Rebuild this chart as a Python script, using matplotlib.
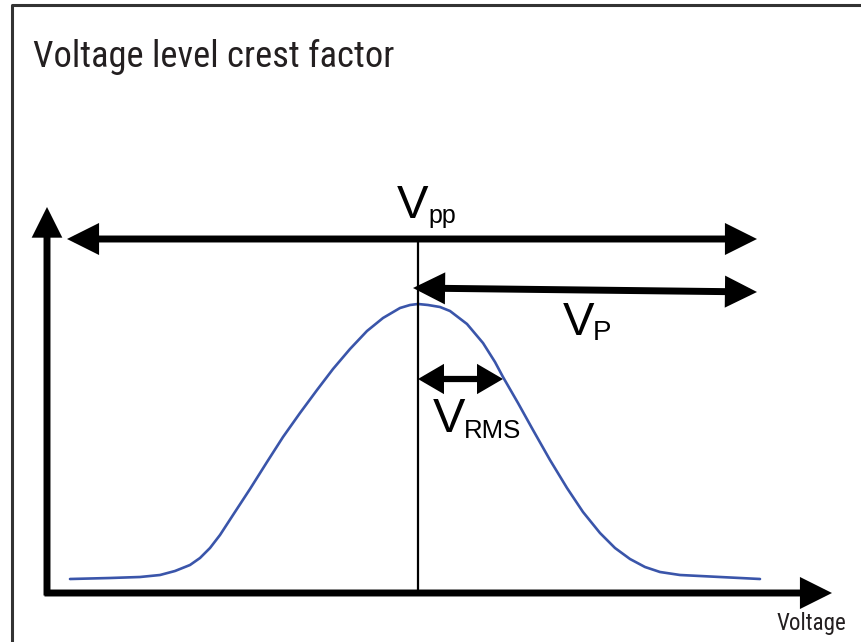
import matplotlib
matplotlib.use("Agg")
import matplotlib.pyplot as plt
from matplotlib.patches import FancyArrowPatch
from matplotlib.lines import Line2D
from matplotlib import font_manager as fm

# ---- data (diagram coordinates, y grows downward) ----
curve_x = [70, 110, 140, 160, 175, 190, 200, 210, 220, 233, 250, 267, 283, 300, 317,
           333, 350, 367, 383, 400, 410, 418, 428, 440, 450, 467, 483, 495, 503, 518,
           533, 550, 567, 583, 600, 615, 630, 645, 660, 680, 720, 760]
curve_y = [579, 578, 577, 575, 571, 565, 558, 548, 535, 515, 489, 462, 437, 413, 390,
           369, 349, 331, 318, 308, 305, 304, 305, 307, 311, 324, 343, 362, 377, 403,
           430, 460, 488, 512, 533, 548, 559, 567, 572, 575, 577, 579]

peak_x = 418
axis_origin = (47, 593)
y_axis_tip = 207
x_axis_tip = 832
vpp_span = [(67, 239), (757, 239)]
vp_span = [(413, 288), (757, 292)]
vrms_span = [(418, 379), (503, 379)]

title = "Voltage level crest factor"
xlabel = "Voltage"

# ---- pick a narrow sans font for the title if available ----
def narrow_font():
    prefs = ["Liberation Sans Narrow", "Roboto Condensed", "DejaVu Sans Condensed",
             "Noto Sans Condensed", "Open Sans Condensed"]
    ents = fm.fontManager.ttflist
    for p in prefs:
        for e in ents:
            if e.name == p and e.style == "normal" and e.weight in (400, "normal", "regular"):
                return fm.FontProperties(fname=e.fname)
    for e in ents:
        low = (e.name + " " + e.fname).lower()
        if ("condensed" in low or "narrow" in low) and "mono" not in low and "serif" not in low \
                and e.style == "normal" and "bold" not in low and "light" not in low \
                and "italic" not in low and "semi" not in low and "extra" not in low \
                and "thin" not in low and "medium" not in low and "black" not in low:
            return fm.FontProperties(fname=e.fname)
    return fm.FontProperties(family="Roboto")

nf = narrow_font()

fig = plt.figure(figsize=(8.62, 6.42), dpi=100)
ax = fig.add_axes([0, 0, 1, 1])
ax.set_xlim(0, 862)
ax.set_ylim(642, 0)
ax.axis("off")

# frame
ax.add_line(Line2D([12, 12, 862], [642, 5, 5], color="#333333", lw=2.2))

# curve
ax.plot(curve_x, curve_y, color="#3a55aa", lw=1.9, solid_capstyle="round",
        solid_joinstyle="round")

# vertical peak line
ax.plot([peak_x, peak_x], [243, axis_origin[1]], color="black", lw=1.6)

def arrow(p0, p1, style, hl, hw, lw):
    a = FancyArrowPatch(p0, p1, arrowstyle=f"{style},head_length={hl},head_width={hw}",
                        mutation_scale=1, color="black", lw=lw, shrinkA=0, shrinkB=0,
                        joinstyle="miter", capstyle="butt")
    ax.add_patch(a)

# axes arrows
ox, oy = axis_origin
arrow((ox, oy + 2.5), (ox, y_axis_tip), "-|>", 14, 7, 5)
arrow((ox - 2.5, oy), (x_axis_tip, oy), "-|>", 15, 7.5, 5)

# Vpp, Vp, Vrms arrows
arrow(vpp_span[0], vpp_span[1], "<|-|>", 15, 7.5, 5)
arrow(vp_span[0], vp_span[1], "<|-|>", 15, 7.5, 5)
arrow(vrms_span[0], vrms_span[1], "<|-|>", 12, 7, 4.5)

# labels
lab = dict(family="Liberation Sans", color="black", va="baseline", ha="left")
ax.text(397, 218, "V", fontsize=34, **lab)
ax.text(428, 223, "pp", fontsize=18, **lab)
ax.text(563, 335, "V", fontsize=34, **lab)
ax.text(593, 340, "P", fontsize=20, **lab)
ax.text(433, 432, "V", fontsize=35, **lab)
ax.text(464, 438, "RMS", fontsize=18.5, **lab)

fig.canvas.draw()
r = fig.canvas.get_renderer()

def fit_text(x, y, s, width_px, size0, **kw):
    t = ax.text(x, y, s, fontproperties=nf.copy(), **kw)
    t.set_fontsize(size0)
    w = t.get_window_extent(r).width
    t.set_fontsize(size0 * width_px / w)
    return t

fit_text(33, 67, title, 362, 24, color="#231f20", va="baseline", ha="left")
fit_text(777, 630, xlabel, 70, 14, color="#231f20", va="baseline", ha="left")

fig.savefig("out.png", dpi=100)
